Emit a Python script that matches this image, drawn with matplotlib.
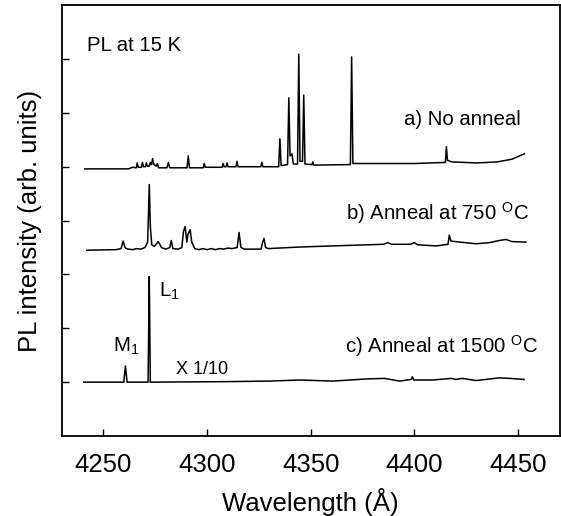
import numpy as np
import matplotlib
matplotlib.use('Agg')
import matplotlib.pyplot as plt

plt.rcParams['font.family'] = ['Liberation Sans', 'DejaVu Sans']
plt.rcParams['mathtext.fontset'] = 'custom'
plt.rcParams['mathtext.rm'] = 'Liberation Sans'
plt.rcParams['mathtext.it'] = 'Liberation Sans:italic'

# a) no anneal, offset baseline ~5
wl_a = [4241, 4262, 4264, 4265.8, 4266.3, 4266.8, 4268.3, 4268.8, 4269.3, 4270.2,
        4270.7, 4271.2, 4272.1, 4272.6, 4273.2, 4273.7, 4274.3, 4275.5, 4276.0, 4276.6,
        4280.6, 4281.3, 4282.0, 4290.3, 4290.9, 4291.5, 4298.1, 4298.6, 4299.1, 4307.2,
        4307.7, 4308.2, 4309.1, 4309.6, 4310.1, 4313.9, 4314.4, 4314.9, 4325.9, 4326.4,
        4326.9, 4334.5, 4335.1, 4335.7, 4338.8, 4339.4, 4340.0, 4340.9, 4341.6, 4343.6,
        4344.2, 4344.8, 4346.0, 4346.6, 4347.2, 4350.6, 4351.0, 4351.4, 4369.1, 4369.7,
        4370.3, 4385, 4400, 4414.9, 4415.4, 4415.9, 4418, 4430, 4440, 4447, 4453]
int_a = [4.96, 4.96, 4.99, 4.98, 5.07, 4.99, 4.99, 5.08, 5.0, 5.0,
         5.07, 5.01, 5.01, 5.08, 5.04, 5.15, 5.04, 5.01, 5.06, 4.98,
         4.98, 5.08, 4.98, 4.98, 5.2, 4.98, 4.98, 5.06, 4.99, 4.99,
         5.06, 5.0, 5.0, 5.07, 5.0, 5.0, 5.1, 5.0, 5.0, 5.08,
         5.0, 5.0, 5.52, 5.02, 5.04, 6.28, 5.2, 5.24, 5.05, 5.05,
         7.09, 5.1, 5.1, 6.33, 5.05, 5.04, 5.09, 5.03, 5.04, 7.04,
         5.06, 5.06, 5.06, 5.08, 5.37, 5.12, 5.09, 5.07, 5.09, 5.14, 5.24]

# b) anneal at 750 C, baseline ~3.5
wl_b = [4242, 4256, 4258.5, 4259.5, 4260.5, 4262, 4264, 4266, 4268, 4270,
        4271.3, 4271.7, 4272.1, 4272.6, 4273.3, 4274.5, 4276.4, 4278, 4280, 4282.0,
        4282.7, 4283.5, 4286, 4287.8, 4288.6, 4289.4, 4290.2, 4290.8, 4291.8, 4292.6,
        4294, 4296, 4298, 4300, 4302, 4304, 4306, 4308, 4310, 4312,
        4314.5, 4315.4, 4316.3, 4318, 4326, 4326.8, 4327.4, 4328.2, 4329.5, 4345,
        4368.8, 4385, 4387.2, 4389, 4398, 4400.0, 4401.5, 4410.7, 4416.2, 4416.8,
        4417.6, 4422, 4429.7, 4436, 4440.9, 4444.1, 4447, 4453.7]
int_b = [3.45, 3.46, 3.48, 3.62, 3.49, 3.47, 3.46, 3.48, 3.47, 3.5,
         3.6, 4.1, 4.67, 3.9, 3.55, 3.52, 3.61, 3.5, 3.47, 3.5,
         3.63, 3.48, 3.47, 3.5, 3.8, 3.89, 3.6, 3.75, 3.83, 3.6,
         3.48, 3.46, 3.48, 3.46, 3.48, 3.46, 3.48, 3.47, 3.49, 3.48,
         3.5, 3.78, 3.5, 3.47, 3.47, 3.6, 3.67, 3.5, 3.48, 3.51,
         3.54, 3.56, 3.59, 3.56, 3.56, 3.59, 3.55, 3.53, 3.56, 3.73,
         3.62, 3.6, 3.57, 3.59, 3.63, 3.65, 3.61, 3.6]

# c) anneal at 1500 C (x 1/10), baseline ~1
wl_c = [4240.5, 4259.8, 4260.6, 4261.4, 4271.5, 4271.8, 4272.1, 4272.6, 4310, 4330,
        4344.7, 4360.6, 4376.9, 4385.6, 4392.8, 4398.4, 4399.0, 4399.7, 4408.7, 4417.8,
        4420, 4423.1, 4429.8, 4440.9, 4446, 4452.9]
int_c = [1.0, 1.0, 1.3, 1.0, 1.0, 1.9, 2.96, 1.0, 1.01, 1.02,
         1.04, 1.02, 1.06, 1.07, 1.02, 1.05, 1.1, 1.04, 1.04, 1.07,
         1.05, 1.07, 1.03, 1.08, 1.07, 1.05]

fig = plt.figure(figsize=(5.61, 5.16), dpi=100)
ax = fig.add_axes([0.1105, 0.155, 0.887, 0.835])

for wl, inten in [(wl_a, int_a), (wl_b, int_b), (wl_c, int_c)]:
    ax.plot(wl, inten, color='black', lw=1.1)

ax.set_xlim(4230, 4470)
ax.set_ylim(0, 8)
ax.set_xticks([4250, 4300, 4350, 4400, 4450])
ax.set_yticks(range(1, 8))
ax.set_yticklabels([])
ax.tick_params(direction='in', length=5, width=1.0, labelsize=18.5)
ax.tick_params(axis='x', pad=12)
for s in ax.spines.values():
    s.set_linewidth(1.3)

ax.set_xlabel('Wavelength (Å)', fontsize=18.5, labelpad=8)
ax.set_ylabel('PL intensity (arb. units)', fontsize=18.5, labelpad=11)

ax.text(4242.3, 7.15, 'PL at 15 K', fontsize=14.7)
ax.text(4451.5, 5.78, 'a) No anneal', fontsize=14.7, ha='right')
ax.text(4455.3, 4.01, r'b) Anneal at 750 $^{\mathrm{O}}$C', fontsize=14.7, ha='right')
ax.text(4459.6, 1.54, r'c) Anneal at 1500 $^{\mathrm{O}}$C', fontsize=14.7, ha='right')
ax.text(4254.8, 1.56, r'M$_1$', fontsize=14.7)
ax.text(4276.9, 2.58, r'L$_1$', fontsize=14.7)
ax.text(4285.1, 1.15, 'X 1/10', fontsize=13)

fig.savefig('out.png', dpi=100)
